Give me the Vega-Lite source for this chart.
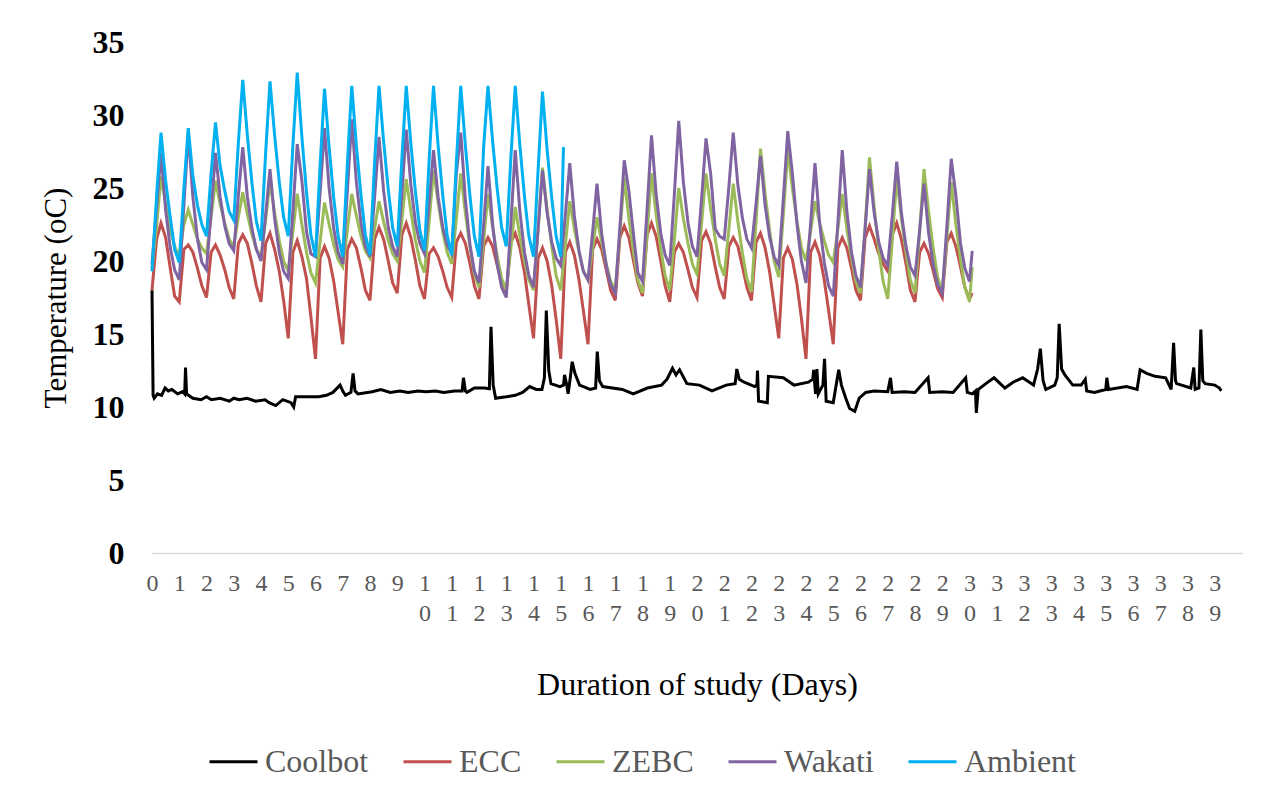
{
  "$schema": "https://vega.github.io/schema/vega-lite/v6.json",
  "width": 1090,
  "height": 511,
  "autosize": {"type": "none"},
  "padding": {"left": 152, "top": 42, "right": 22, "bottom": 243},
  "background": "white",
  "config": {
    "view": {"stroke": null},
    "legend": {
      "orient": "bottom",
      "direction": "horizontal",
      "title": null,
      "symbolType": "stroke",
      "symbolSize": 2304,
      "symbolStrokeWidth": 3,
      "labelFont": "Liberation Serif",
      "labelFontSize": 32,
      "labelColor": "#595959",
      "labelOffset": 6,
      "columnPadding": 28,
      "padding": 56,
      "offset": -20
    },
    "line": {"strokeWidth": 3, "invalid": "filter", "interpolate": "linear"}
  },
  "data": {"values": [
    {"d":0,"E":18.0,"Z":19.5,"W":19.8,"A":19.3},
    {"d":0.17,"E":21.5,"Z":22.4,"W":23.7,"A":24.5},
    {"d":0.33,"E":22.6,"Z":25.8,"W":27.4,"A":28.8},
    {"d":0.5,"E":21.6,"Z":23.9,"W":23.5,"A":25.5},
    {"d":0.67,"E":19.5,"Z":22.2,"W":20.9,"A":23.0},
    {"d":0.83,"E":17.6,"Z":21.0,"W":19.4,"A":20.8},
    {"d":1,"E":17.2,"Z":20.3,"W":18.7,"A":19.9},
    {"d":1.17,"E":20.8,"Z":22.5,"W":23.8,"A":25.0},
    {"d":1.33,"E":21.1,"Z":23.5,"W":28.8,"A":29.1},
    {"d":1.5,"E":20.6,"Z":22.5,"W":24.4,"A":25.8},
    {"d":1.67,"E":19.5,"Z":21.5,"W":21.5,"A":23.8},
    {"d":1.83,"E":18.3,"Z":20.9,"W":19.9,"A":22.5},
    {"d":2,"E":17.5,"Z":20.5,"W":19.4,"A":21.7},
    {"d":2.17,"E":20.6,"Z":23.0,"W":23.4,"A":26.0},
    {"d":2.33,"E":21.1,"Z":25.5,"W":27.4,"A":29.5},
    {"d":2.5,"E":20.4,"Z":23.9,"W":24.4,"A":26.5},
    {"d":2.67,"E":19.4,"Z":22.6,"W":22.4,"A":24.8},
    {"d":2.83,"E":18.2,"Z":21.5,"W":21.2,"A":23.4},
    {"d":3,"E":17.4,"Z":21.0,"W":20.7,"A":22.8},
    {"d":3.17,"E":21.2,"Z":23.0,"W":24.5,"A":28.1},
    {"d":3.33,"E":21.8,"Z":24.7,"W":27.8,"A":32.4},
    {"d":3.5,"E":21.2,"Z":23.2,"W":24.4,"A":28.6},
    {"d":3.67,"E":19.8,"Z":21.8,"W":22.2,"A":25.3},
    {"d":3.83,"E":18.3,"Z":20.8,"W":20.8,"A":22.7},
    {"d":4,"E":17.2,"Z":20.3,"W":20.0,"A":21.4},
    {"d":4.17,"E":21.2,"Z":22.8,"W":23.2,"A":27.4},
    {"d":4.33,"E":21.9,"Z":25.4,"W":26.3,"A":32.3},
    {"d":4.5,"E":20.8,"Z":23.3,"W":22.9,"A":28.6},
    {"d":4.67,"E":19.3,"Z":21.4,"W":20.6,"A":25.4},
    {"d":4.83,"E":17.3,"Z":20.0,"W":19.3,"A":23.0},
    {"d":5,"E":14.7,"Z":19.3,"W":18.8,"A":21.7},
    {"d":5.17,"E":20.6,"Z":22.0,"W":23.4,"A":27.9},
    {"d":5.33,"E":21.4,"Z":24.6,"W":28.0,"A":32.9},
    {"d":5.5,"E":20.3,"Z":22.5,"W":25.5,"A":28.5},
    {"d":5.67,"E":18.8,"Z":20.6,"W":22.0,"A":24.7},
    {"d":5.83,"E":16.2,"Z":19.2,"W":20.5,"A":21.8},
    {"d":6,"E":13.3,"Z":18.5,"W":20.3,"A":20.3},
    {"d":6.17,"E":20.2,"Z":21.3,"W":24.7,"A":26.6},
    {"d":6.33,"E":21.0,"Z":24.0,"W":29.1,"A":31.8},
    {"d":6.5,"E":20.2,"Z":22.5,"W":25.0,"A":27.8},
    {"d":6.67,"E":18.6,"Z":21.1,"W":22.2,"A":24.3},
    {"d":6.83,"E":16.5,"Z":20.1,"W":20.6,"A":21.7},
    {"d":7,"E":14.3,"Z":19.6,"W":19.8,"A":20.3},
    {"d":7.17,"E":20.8,"Z":22.1,"W":24.8,"A":26.7},
    {"d":7.33,"E":21.5,"Z":24.6,"W":29.7,"A":32.0},
    {"d":7.5,"E":20.9,"Z":23.1,"W":25.4,"A":27.9},
    {"d":7.67,"E":19.5,"Z":21.7,"W":22.6,"A":24.5},
    {"d":7.83,"E":18.0,"Z":20.7,"W":21.0,"A":21.8},
    {"d":8,"E":17.3,"Z":20.2,"W":20.3,"A":20.4},
    {"d":8.17,"E":21.5,"Z":22.2,"W":24.4,"A":26.8},
    {"d":8.33,"E":22.3,"Z":24.1,"W":28.5,"A":32.0},
    {"d":8.5,"E":21.5,"Z":22.7,"W":24.8,"A":28.2},
    {"d":8.67,"E":20.0,"Z":21.4,"W":22.3,"A":24.9},
    {"d":8.83,"E":18.5,"Z":20.5,"W":21.0,"A":22.3},
    {"d":9,"E":17.8,"Z":20.0,"W":20.3,"A":21.0},
    {"d":9.17,"E":21.8,"Z":22.8,"W":24.6,"A":27.0},
    {"d":9.33,"E":22.6,"Z":25.6,"W":29.0,"A":32.0},
    {"d":9.5,"E":21.6,"Z":23.4,"W":25.2,"A":28.0},
    {"d":9.67,"E":20.0,"Z":21.4,"W":22.6,"A":24.7},
    {"d":9.83,"E":18.3,"Z":20.0,"W":21.2,"A":22.1},
    {"d":10,"E":17.4,"Z":19.2,"W":20.5,"A":20.7},
    {"d":10.17,"E":20.5,"Z":22.7,"W":24.0,"A":26.9},
    {"d":10.33,"E":20.9,"Z":26.2,"W":27.6,"A":32.0},
    {"d":10.5,"E":20.3,"Z":24.0,"W":24.4,"A":27.9},
    {"d":10.67,"E":19.3,"Z":22.0,"W":22.3,"A":24.5},
    {"d":10.83,"E":18.2,"Z":20.6,"W":21.1,"A":21.8},
    {"d":11,"E":17.5,"Z":19.8,"W":20.5,"A":20.4},
    {"d":11.17,"E":21.3,"Z":22.9,"W":26.0,"A":26.8},
    {"d":11.33,"E":21.9,"Z":26.0,"W":28.8,"A":32.0},
    {"d":11.5,"E":21.2,"Z":23.3,"W":24.2,"A":27.9},
    {"d":11.67,"E":19.8,"Z":20.9,"W":21.1,"A":24.4},
    {"d":11.83,"E":18.3,"Z":19.1,"W":19.3,"A":21.7},
    {"d":12,"E":17.4,"Z":18.2,"W":18.5,"A":20.3},
    {"d":12.17,"E":21.0,"Z":21.4,"W":22.5,"A":27.8},
    {"d":12.33,"E":21.6,"Z":24.6,"W":26.5,"A":32.0},
    {"d":12.5,"E":21.0,"Z":22.3,"W":22.5,"A":28.2},
    {"d":12.67,"E":19.7,"Z":20.3,"W":19.8,"A":24.9},
    {"d":12.83,"E":18.4,"Z":18.8,"W":18.2,"A":22.3},
    {"d":13,"E":17.8,"Z":18.0,"W":17.5,"A":21.0},
    {"d":13.17,"E":21.3,"Z":20.9,"W":22.6,"A":27.1},
    {"d":13.33,"E":21.9,"Z":23.7,"W":27.6,"A":32.0},
    {"d":13.5,"E":20.9,"Z":21.7,"W":23.4,"A":27.9},
    {"d":13.67,"E":19.2,"Z":20.0,"W":20.6,"A":24.4},
    {"d":13.83,"E":17.0,"Z":18.7,"W":19.0,"A":21.7},
    {"d":14,"E":14.7,"Z":18.0,"W":18.2,"A":20.3},
    {"d":14.17,"E":20.2,"Z":22.2,"W":22.2,"A":26.3},
    {"d":14.33,"E":20.9,"Z":26.4,"W":26.2,"A":31.6},
    {"d":14.5,"E":20.0,"Z":23.5,"W":23.3,"A":27.6},
    {"d":14.67,"E":18.3,"Z":21.0,"W":21.3,"A":24.3},
    {"d":14.83,"E":16.0,"Z":19.0,"W":20.2,"A":21.7},
    {"d":15,"E":13.3,"Z":18.0,"W":19.7,"A":20.3},
    {"d":15.1,"A":27.8},
    {"d":15.17,"E":20.6,"Z":21.1,"W":23.2},
    {"d":15.33,"E":21.3,"Z":24.1,"W":26.7},
    {"d":15.5,"E":20.4,"Z":22.2,"W":23.1},
    {"d":15.67,"E":18.7,"Z":20.6,"W":20.7},
    {"d":15.83,"E":16.6,"Z":19.3,"W":19.3},
    {"d":16,"E":14.3,"Z":18.7,"W":18.7},
    {"d":16.17,"E":20.8,"Z":20.9,"W":22.0},
    {"d":16.33,"E":21.5,"Z":23.0,"W":25.3},
    {"d":16.5,"E":20.8,"Z":21.3,"W":21.9},
    {"d":16.67,"E":19.4,"Z":19.8,"W":19.7},
    {"d":16.83,"E":18.0,"Z":18.6,"W":18.4},
    {"d":17,"E":17.3,"Z":18.0,"W":17.8},
    {"d":17.17,"E":21.6,"Z":21.9,"W":22.3},
    {"d":17.33,"E":22.4,"Z":25.7,"W":26.9},
    {"d":17.5,"E":21.6,"Z":22.9,"W":24.8},
    {"d":17.67,"E":20.0,"Z":20.6,"W":21.8},
    {"d":17.83,"E":18.5,"Z":18.7,"W":19.2},
    {"d":18,"E":17.6,"Z":17.8,"W":18.6},
    {"d":18.17,"E":21.8,"Z":21.9,"W":23.6},
    {"d":18.33,"E":22.6,"Z":26.0,"W":28.6},
    {"d":18.5,"E":21.7,"Z":23.2,"W":24.6},
    {"d":18.67,"E":20.0,"Z":20.8,"W":21.9},
    {"d":18.83,"E":18.3,"Z":19.0,"W":20.4},
    {"d":19,"E":17.2,"Z":18.0,"W":19.7},
    {"d":19.17,"E":20.6,"Z":21.5,"W":24.6},
    {"d":19.33,"E":21.2,"Z":25.0,"W":29.6},
    {"d":19.5,"E":20.6,"Z":22.9,"W":25.4},
    {"d":19.67,"E":19.4,"Z":21.2,"W":22.6},
    {"d":19.83,"E":18.2,"Z":19.8,"W":21.0},
    {"d":20,"E":17.5,"Z":19.1,"W":20.3},
    {"d":20.17,"E":21.4,"Z":22.6,"W":24.3},
    {"d":20.33,"E":22.0,"Z":26.0,"W":28.4},
    {"d":20.5,"E":21.2,"Z":23.6,"W":26.0},
    {"d":20.67,"E":19.6,"Z":21.5,"W":22.2},
    {"d":20.83,"E":18.2,"Z":19.8,"W":21.7},
    {"d":21,"E":17.4,"Z":19.0,"W":21.5},
    {"d":21.17,"E":21.0,"Z":22.2,"W":25.1},
    {"d":21.33,"E":21.6,"Z":25.3,"W":28.8},
    {"d":21.5,"E":21.0,"Z":22.7,"W":25.2},
    {"d":21.67,"E":19.6,"Z":20.5,"W":22.9},
    {"d":21.83,"E":18.2,"Z":18.8,"W":21.5},
    {"d":22,"E":17.3,"Z":17.9,"W":20.9},
    {"d":22.17,"E":21.3,"Z":22.8,"W":24.0},
    {"d":22.33,"E":21.9,"Z":27.7,"W":27.2},
    {"d":22.5,"E":20.9,"Z":24.6,"W":23.8},
    {"d":22.67,"E":19.2,"Z":22.0,"W":21.6},
    {"d":22.83,"E":17.0,"Z":20.0,"W":20.3},
    {"d":23,"E":14.7,"Z":18.9,"W":19.7},
    {"d":23.17,"E":20.2,"Z":23.2,"W":24.3},
    {"d":23.33,"E":20.9,"Z":27.6,"W":28.9},
    {"d":23.5,"E":20.1,"Z":25.0,"W":26.0},
    {"d":23.67,"E":18.4,"Z":22.7,"W":22.5},
    {"d":23.83,"E":16.1,"Z":20.9,"W":20.0},
    {"d":24,"E":13.3,"Z":20.0,"W":18.5},
    {"d":24.17,"E":20.6,"Z":22.0,"W":22.6},
    {"d":24.33,"E":21.3,"Z":24.1,"W":26.7},
    {"d":24.5,"E":20.4,"Z":22.6,"W":22.6},
    {"d":24.67,"E":18.7,"Z":21.4,"W":19.9},
    {"d":24.83,"E":16.6,"Z":20.4,"W":18.3},
    {"d":25,"E":14.3,"Z":19.9,"W":17.6},
    {"d":25.17,"E":20.9,"Z":22.2,"W":22.6},
    {"d":25.33,"E":21.6,"Z":24.6,"W":27.6},
    {"d":25.5,"E":20.9,"Z":22.2,"W":23.4},
    {"d":25.67,"E":19.5,"Z":20.2,"W":20.6},
    {"d":25.83,"E":18.0,"Z":18.6,"W":19.0},
    {"d":26,"E":17.3,"Z":17.8,"W":18.2},
    {"d":26.17,"E":21.6,"Z":22.4,"W":22.2},
    {"d":26.33,"E":22.4,"Z":27.1,"W":26.3},
    {"d":26.5,"E":21.5,"Z":23.7,"W":23.3},
    {"d":26.67,"E":20.5,"Z":20.8,"W":21.3},
    {"d":26.83,"E":19.8,"Z":18.6,"W":20.2},
    {"d":27,"E":19.3,"Z":17.4,"W":19.7},
    {"d":27.17,"E":21.8,"Z":21.5,"W":23.2},
    {"d":27.33,"E":22.6,"Z":25.7,"W":26.8},
    {"d":27.5,"E":21.5,"Z":22.9,"W":23.3},
    {"d":27.67,"E":19.8,"Z":20.6,"W":21.0},
    {"d":27.83,"E":18.0,"Z":18.7,"W":19.6},
    {"d":28,"E":17.2,"Z":17.8,"W":19.0},
    {"d":28.17,"E":20.6,"Z":22.0,"W":22.1},
    {"d":28.33,"E":21.2,"Z":26.3,"W":25.3},
    {"d":28.5,"E":20.5,"Z":23.4,"W":21.9},
    {"d":28.67,"E":19.3,"Z":20.8,"W":19.7},
    {"d":28.83,"E":18.1,"Z":18.9,"W":18.4},
    {"d":29,"E":17.5,"Z":17.9,"W":17.8},
    {"d":29.17,"E":21.3,"Z":21.6,"W":22.4},
    {"d":29.33,"E":21.9,"Z":25.4,"W":27.0},
    {"d":29.5,"E":21.0,"Z":22.5,"W":24.5},
    {"d":29.67,"E":19.6,"Z":20.1,"W":21.2},
    {"d":29.83,"E":18.2,"Z":18.2,"W":19.5},
    {"d":30,"E":17.4,"Z":17.2,"W":18.6},
    {"d":30.1,"E":17.8,"Z":19.6,"W":20.7}
  ]},
  "encoding": {
    "x": {
      "field": "d", "type": "quantitative",
      "scale": {"domain": [0, 40], "nice": false, "zero": false},
      "axis": {
        "values": [0,1,2,3,4,5,6,7,8,9,10,11,12,13,14,15,16,17,18,19,20,21,22,23,24,25,26,27,28,29,30,31,32,33,34,35,36,37,38,39],
        "labelExpr": "datum.value < 10 ? datum.label : [substring(datum.label, 0, 1), substring(datum.label, 1, 2)]",
        "labelFont": "Liberation Serif", "labelFontSize": 24, "labelColor": "#595959",
        "labelLineHeight": 30, "labelBaseline": "top", "labelAlign": "center", "labelPadding": 18,
        "labelFlush": false, "labelOverlap": false, "ticks": false, "grid": false,
        "domainColor": "#D9D9D9", "domainWidth": 1.3,
        "title": "Duration of study (Days)", "titleFont": "Liberation Serif", "titleFontSize": 32,
        "titleFontWeight": "normal", "titleColor": "#000000", "titlePadding": 44
      }
    }
  },
  "layer": [
    {
      "data": {"values": [
        {"d":0,"C":18.0},{"d":0.04,"C":10.8},{"d":0.08,"C":10.6},{"d":0.2,"C":10.9},{"d":0.35,"C":10.8},{"d":0.48,"C":11.3},{"d":0.6,"C":11.1},{"d":0.73,"C":11.2},{"d":0.94,"C":10.9},{"d":1.13,"C":11.05},{"d":1.2,"C":10.9},{"d":1.23,"C":12.7},{"d":1.27,"C":10.9},{"d":1.5,"C":10.6},{"d":1.8,"C":10.5},{"d":2.0,"C":10.7},{"d":2.18,"C":10.5},{"d":2.5,"C":10.6},{"d":2.84,"C":10.4},{"d":3.0,"C":10.6},{"d":3.2,"C":10.5},{"d":3.49,"C":10.6},{"d":3.8,"C":10.4},{"d":4.15,"C":10.5},{"d":4.3,"C":10.3},{"d":4.54,"C":10.1},{"d":4.8,"C":10.5},{"d":5.1,"C":10.3},{"d":5.2,"C":10.0},{"d":5.27,"C":10.7},{"d":5.7,"C":10.7},{"d":6.12,"C":10.7},{"d":6.4,"C":10.8},{"d":6.64,"C":11.0},{"d":6.9,"C":11.5},{"d":7.0,"C":11.1},{"d":7.1,"C":10.8},{"d":7.3,"C":11.0},{"d":7.38,"C":12.3},{"d":7.45,"C":11.1},{"d":7.56,"C":10.9},{"d":8.08,"C":11.05},{"d":8.4,"C":11.2},{"d":8.74,"C":11.0},{"d":9.1,"C":11.1},{"d":9.4,"C":11.0},{"d":9.75,"C":11.1},{"d":10.05,"C":11.05},{"d":10.4,"C":11.1},{"d":10.71,"C":11.0},{"d":11.1,"C":11.1},{"d":11.38,"C":11.1},{"d":11.43,"C":12.0},{"d":11.5,"C":11.1},{"d":11.56,"C":11.0},{"d":11.83,"C":11.3},{"d":12.2,"C":11.3},{"d":12.38,"C":11.25},{"d":12.44,"C":15.5},{"d":12.52,"C":11.5},{"d":12.61,"C":10.6},{"d":13.0,"C":10.7},{"d":13.33,"C":10.8},{"d":13.6,"C":11.0},{"d":13.86,"C":11.4},{"d":14.1,"C":11.2},{"d":14.31,"C":11.2},{"d":14.4,"C":12.0},{"d":14.47,"C":16.6},{"d":14.56,"C":12.5},{"d":14.64,"C":11.6},{"d":14.97,"C":11.4},{"d":15.1,"C":11.5},{"d":15.14,"C":12.2},{"d":15.22,"C":11.5},{"d":15.27,"C":10.9},{"d":15.35,"C":12.0},{"d":15.42,"C":13.1},{"d":15.52,"C":12.3},{"d":15.69,"C":11.5},{"d":16.08,"C":11.2},{"d":16.28,"C":11.3},{"d":16.34,"C":13.8},{"d":16.42,"C":11.8},{"d":16.54,"C":11.4},{"d":17.26,"C":11.2},{"d":17.66,"C":10.9},{"d":18.18,"C":11.3},{"d":18.7,"C":11.5},{"d":18.9,"C":11.9},{"d":19.1,"C":12.65},{"d":19.23,"C":12.2},{"d":19.36,"C":12.55},{"d":19.63,"C":11.6},{"d":20.09,"C":11.5},{"d":20.55,"C":11.1},{"d":21.07,"C":11.5},{"d":21.4,"C":11.6},{"d":21.46,"C":12.6},{"d":21.55,"C":11.9},{"d":21.73,"C":11.7},{"d":22.12,"C":11.4},{"d":22.2,"C":11.5},{"d":22.22,"C":12.5},{"d":22.26,"C":10.4},{"d":22.58,"C":10.3},{"d":22.62,"C":12.1},{"d":23.17,"C":12.0},{"d":23.56,"C":11.5},{"d":24.09,"C":11.7},{"d":24.25,"C":11.9},{"d":24.28,"C":12.55},{"d":24.35,"C":10.9},{"d":24.4,"C":12.6},{"d":24.45,"C":10.9},{"d":24.62,"C":11.5},{"d":24.68,"C":13.3},{"d":24.74,"C":10.4},{"d":25.0,"C":10.3},{"d":25.2,"C":12.55},{"d":25.3,"C":11.5},{"d":25.46,"C":10.6},{"d":25.6,"C":9.9},{"d":25.79,"C":9.7},{"d":25.95,"C":10.6},{"d":26.19,"C":11.0},{"d":26.5,"C":11.1},{"d":27.0,"C":11.05},{"d":27.1,"C":12.0},{"d":27.16,"C":11.0},{"d":27.6,"C":11.05},{"d":28.0,"C":11.0},{"d":28.48,"C":12.0},{"d":28.54,"C":11.0},{"d":29.0,"C":11.05},{"d":29.4,"C":11.0},{"d":29.86,"C":12.0},{"d":29.92,"C":11.0},{"d":30.1,"C":10.9},{"d":30.22,"C":11.1},{"d":30.25,"C":9.6},{"d":30.32,"C":11.2},{"d":30.6,"C":11.6},{"d":30.9,"C":12.0},{"d":31.3,"C":11.3},{"d":31.6,"C":11.7},{"d":31.95,"C":12.0},{"d":32.35,"C":11.5},{"d":32.5,"C":12.6},{"d":32.6,"C":14.0},{"d":32.7,"C":11.8},{"d":32.8,"C":11.2},{"d":33.13,"C":11.5},{"d":33.22,"C":12.0},{"d":33.29,"C":15.7},{"d":33.38,"C":12.6},{"d":33.5,"C":12.2},{"d":33.79,"C":11.5},{"d":34.1,"C":11.5},{"d":34.25,"C":11.9},{"d":34.3,"C":11.1},{"d":34.58,"C":11.0},{"d":35.0,"C":11.2},{"d":35.04,"C":12.0},{"d":35.1,"C":11.2},{"d":35.76,"C":11.4},{"d":36.15,"C":11.2},{"d":36.26,"C":12.55},{"d":36.5,"C":12.3},{"d":36.81,"C":12.1},{"d":37.2,"C":12.0},{"d":37.4,"C":11.2},{"d":37.49,"C":14.4},{"d":37.56,"C":11.8},{"d":37.6,"C":11.6},{"d":38.12,"C":11.3},{"d":38.23,"C":12.7},{"d":38.28,"C":11.2},{"d":38.42,"C":11.3},{"d":38.49,"C":15.3},{"d":38.56,"C":11.8},{"d":38.65,"C":11.6},{"d":39.0,"C":11.5},{"d":39.17,"C":11.3},{"d":39.24,"C":11.1}
      ]},
      "mark": {"type": "line"},
      "encoding": {
        "y": {
          "field": "C", "type": "quantitative",
          "scale": {"domain": [0, 35], "nice": false},
          "axis": {
            "values": [0,5,10,15,20,25,30,35],
            "labelFont": "Liberation Serif", "labelFontSize": 32, "labelFontWeight": "bold",
            "labelColor": "#000000", "labelPadding": 28, "ticks": false, "domain": false, "grid": false,
            "title": "Temperature (oC)", "titleFont": "Liberation Serif", "titleFontSize": 31,
            "titleFontWeight": "normal", "titleColor": "#000000", "titlePadding": 20
          }
        },
        "color": {"datum": "Coolbot", "type": "nominal",
          "scale": {"domain": ["Coolbot","ECC","ZEBC","Wakati","Ambient"], "range": ["#000000","#C0504D","#9BBB59","#8064A2","#00B0F0"]}}
      }
    },
    {
      "mark": {"type": "line"},
      "encoding": {
        "y": {"field": "E", "type": "quantitative"},
        "color": {"datum": "ECC", "type": "nominal"}
      }
    },
    {
      "mark": {"type": "line"},
      "encoding": {
        "y": {"field": "Z", "type": "quantitative"},
        "color": {"datum": "ZEBC", "type": "nominal"}
      }
    },
    {
      "mark": {"type": "line"},
      "encoding": {
        "y": {"field": "W", "type": "quantitative"},
        "color": {"datum": "Wakati", "type": "nominal"}
      }
    },
    {
      "mark": {"type": "line"},
      "encoding": {
        "y": {"field": "A", "type": "quantitative"},
        "color": {"datum": "Ambient", "type": "nominal"}
      }
    }
  ]
}
